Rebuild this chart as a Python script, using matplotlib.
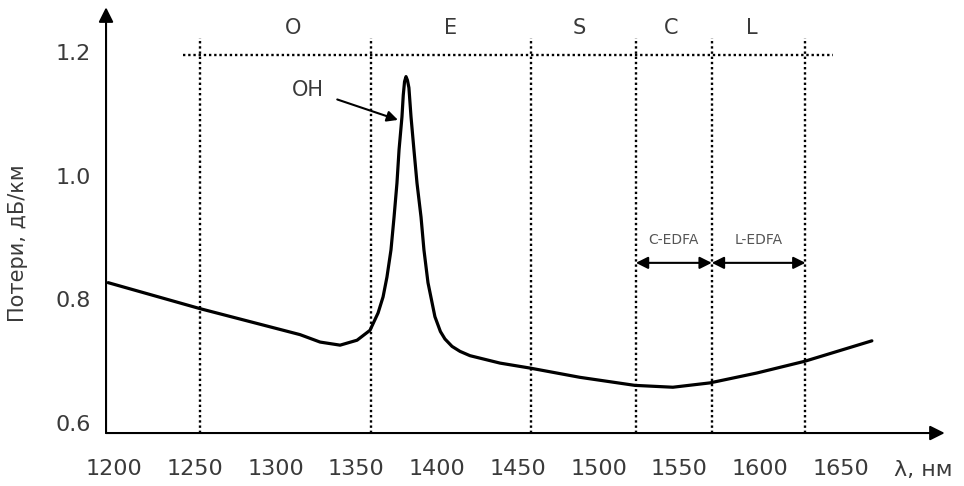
import numpy as np
import matplotlib
matplotlib.use('Agg')
import matplotlib.pyplot as plt

# attenuation curve (nm, dB/km)
wavelength = [1196.3, 1253.2, 1315.1, 1327.5, 1339.9, 1350.4, 1358.4, 1363.4, 1366.5,
              1368.9, 1371.4, 1373.3, 1375.1, 1376.4, 1378.2, 1379.0, 1379.8, 1380.7,
              1381.6, 1382.5, 1383.8, 1385.6, 1387.5, 1390.0, 1391.8, 1394.3, 1398.6,
              1402.0, 1404.8, 1409.2, 1414.1, 1420.3, 1438.9, 1457.4, 1488.4, 1522.4,
              1545.9, 1568.8, 1597.9, 1627.6, 1669.1]
loss = [0.827, 0.785, 0.743, 0.731, 0.726, 0.734, 0.750, 0.778, 0.804,
        0.836, 0.880, 0.933, 0.988, 1.042, 1.095, 1.130, 1.152, 1.160,
        1.154, 1.142, 1.095, 1.042, 0.988, 0.933, 0.880, 0.827, 0.772,
        0.748, 0.736, 0.724, 0.716, 0.709, 0.697, 0.689, 0.674, 0.661,
        0.658, 0.665, 0.681, 0.700, 0.733]

band_edges = [1253, 1359, 1458, 1523, 1570, 1628]
band_names = ['O', 'E', 'S', 'C', 'L']
band_label_x = [1311, 1408, 1488, 1545, 1595]

xticks = [1200, 1250, 1300, 1350, 1400, 1450, 1500, 1550, 1600, 1650]
yticks = [0.6, 0.8, 1.0, 1.2]

txt = '#3a3a3a'

fig = plt.figure(figsize=(9.64, 4.86), dpi=100)
ax = fig.add_axes([0.110, 0.109, 0.870, 0.876])
ax.set_xlim(1195.0, 1714.2)
ax.set_ylim(0.584, 1.272)

for s in ax.spines.values():
    s.set_visible(False)

# axes with arrows
ax.annotate('', xy=(1, 0), xytext=(0, 0), xycoords='axes fraction',
            arrowprops=dict(arrowstyle='-|>', color='black', lw=1.5, mutation_scale=22,
                            shrinkA=0, shrinkB=0))
ax.annotate('', xy=(0, 1), xytext=(0, 0), xycoords='axes fraction',
            arrowprops=dict(arrowstyle='-|>', color='black', lw=1.5, mutation_scale=22,
                            shrinkA=0, shrinkB=0))

# band borders
dot = (0, (1, 1.2))
for xe in band_edges:
    ax.plot([xe, xe], [0.584, 1.223], color='black', lw=1.7, linestyle=dot)
ax.plot([1242.7, 1644.9], [1.195, 1.195], color='black', lw=1.7, linestyle=dot)

for name, xl in zip(band_names, band_label_x):
    ax.text(xl, 1.239, name, ha='center', va='center', fontsize=15, color=txt)

ax.plot(wavelength, loss, color='black', lw=2.3, solid_joinstyle='round',
        solid_capstyle='round')

# OH peak annotation
ax.annotate('OH', xy=(1375.7, 1.090), xytext=(1320.0, 1.139),
            ha='center', va='center', fontsize=15, color=txt,
            arrowprops=dict(arrowstyle='-|>', color='black', lw=1.5, mutation_scale=16,
                            shrinkA=8, shrinkB=0))

# amplifier ranges
for (a, b), lab in zip([(1523, 1570), (1570, 1628)], ['C-EDFA', 'L-EDFA']):
    ax.annotate('', xy=(a, 0.859), xytext=(b, 0.859),
                arrowprops=dict(arrowstyle='<|-|>', color='black', lw=1.5,
                                mutation_scale=18, shrinkA=0, shrinkB=0))
    ax.text((a + b) / 2, 0.896, lab, ha='center', va='center', fontsize=10, color='#555555')

ax.set_xticks(xticks)
ax.set_yticks(yticks)
ax.set_xticklabels([str(v) for v in xticks])
ax.set_yticklabels(['%.1f' % v for v in yticks])
ax.tick_params(axis='x', length=0, pad=19, labelsize=16, labelcolor=txt)
ax.tick_params(axis='y', length=0, pad=11, labelsize=16, labelcolor=txt)

fig.text(18 / 964, 1 - 243 / 486, 'Потери, дБ/км', rotation=90, ha='center', va='center',
         fontsize=15, color=txt)
fig.text(923 / 964, 1 - 470 / 486, 'λ, нм', ha='center', va='center', fontsize=16, color=txt)

fig.savefig('out.png', dpi=100)
